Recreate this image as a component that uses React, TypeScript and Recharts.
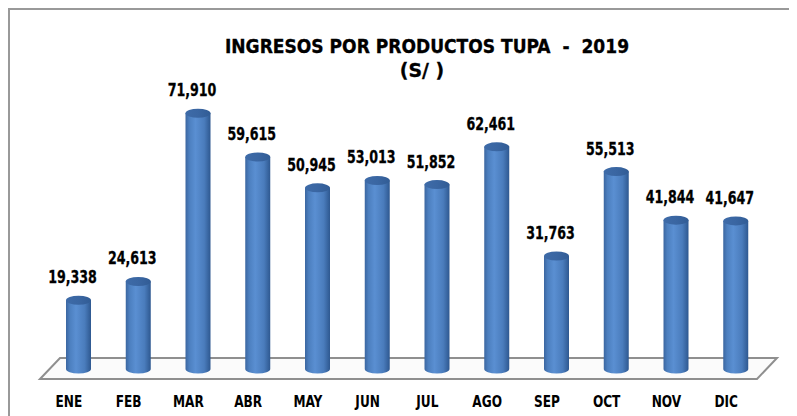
import React from 'react';
import * as R from 'recharts';
import { BarChart, Bar, XAxis, YAxis, LabelList } from 'recharts';

const MONTHS = ['ENE', 'FEB', 'MAR', 'ABR', 'MAY', 'JUN', 'JUL', 'AGO', 'SEP', 'OCT', 'NOV', 'DIC'];
const INGRESOS = [19338, 24613, 71910, 59615, 50945, 53013, 51852, 62461, 31763, 55513, 41844, 41647];

const data = MONTHS.map((m, i) => ({ month: m, value: INGRESOS[i] }));

const W = 787;
const H = 406;
const MARGIN = { top: 74.5, right: 31, left: 39, bottom: 0 };
const FONT = '"DejaVu Sans Condensed", "DejaVu Sans", sans-serif';

// cylinder shape
function Cylinder(props: any) {
  const { x, y, width, height } = props;
  if (height == null || width == null) return null;
  const rx = width / 2;
  const ry = 4.5;
  const bottom = y + height;
  const body = `M${x},${y} L${x},${bottom} A${rx},${ry} 0 0 0 ${x + width},${bottom} L${x + width},${y} Z`;
  return (
    <g>
      <path d={body} fill="url(#cylBody)" />
      <ellipse cx={x + rx} cy={y} rx={rx} ry={ry} fill="url(#cylTop)" />
    </g>
  );
}

function Floor() {
  const area = (R as any).usePlotArea ? (R as any).usePlotArea() : null;
  const left = area ? area.x : MARGIN.left;
  const right = area ? area.x + area.width : W - MARGIN.right;
  const base = area ? area.y + area.height : H - 47;
  const pts = [
    [left - 9, base + 10],
    [left + 11, base - 11],
    [right + 11, base - 11],
    [right - 9, base + 10],
  ]
    .map((p) => p.join(','))
    .join(' ');
  return <polygon points={pts} fill="#fbfbfb" stroke="#8f8f8f" strokeWidth={2} strokeLinejoin="miter" />;
}

function ValueLabel(props: any) {
  const { x, y, width, value } = props;
  const cx = x + width / 2 - 6;
  return (
    <text
      transform={`translate(${cx},${y - 17}) scale(0.78,1)`}
      textAnchor="middle"
      fontFamily={FONT}
      fontWeight="bold"
      fontSize={18}
      fill="#000"
      stroke="#000"
      strokeWidth={0.3}
    >
      {Number(value).toLocaleString('en-US')}
    </text>
  );
}

function MonthTick(props: any) {
  const { x, y, payload } = props;
  return (
    <text
      transform={`translate(${x - 10},${y + 37.5}) scale(0.9,1)`}
      textAnchor="middle"
      fontFamily={FONT}
      fontWeight="bold"
      fontSize={15}
      fill="#000"
    >
      {payload.value}
    </text>
  );
}

export default function App() {
  return (
    <div
      style={{
        width: W,
        height: H,
        borderTop: '2px solid #999',
        borderLeft: '2px solid #999',
        background: '#fff',
      }}
    >
      <BarChart width={W} height={H} data={data} margin={MARGIN} barSize={25}>
        <defs>
          <linearGradient id="cylBody" x1="0" y1="0" x2="1" y2="0">
            <stop offset="0%" stopColor="#3b66a0" />
            <stop offset="15%" stopColor="#4c7fbf" />
            <stop offset="40%" stopColor="#5a8fd2" />
            <stop offset="75%" stopColor="#4a7cbc" />
            <stop offset="100%" stopColor="#2e5890" />
          </linearGradient>
          <linearGradient id="cylTop" x1="0" y1="0" x2="1" y2="0">
            <stop offset="0%" stopColor="#3e6ba8" />
            <stop offset="50%" stopColor="#3a66a2" />
            <stop offset="100%" stopColor="#315c95" />
          </linearGradient>
        </defs>
        <text
          transform={`translate(417,43) scale(1,1)`}
          textAnchor="middle"
          fontFamily={FONT}
          fontWeight="bold"
          fontSize={19}
          fill="#000"
          stroke="#000"
          strokeWidth={0.3}
          style={{ whiteSpace: 'pre' }}
        >
          {'INGRESOS POR PRODUCTOS TUPA  -  2019'}
        </text>
        <text
          transform={`translate(412,67) scale(1.05,1)`}
          textAnchor="middle"
          fontFamily={FONT}
          fontWeight="bold"
          fontSize={20}
          fill="#000"
          stroke="#000"
          strokeWidth={0.3}
          style={{ whiteSpace: 'pre' }}
        >
          {'(S/ )'}
        </text>
        <Floor />
        <XAxis
          dataKey="month"
          axisLine={false}
          tickLine={false}
          tickSize={0}
          tickMargin={0}
          height={47}
          interval={0}
          tick={<MonthTick />}
        />
        <YAxis hide domain={[0, 80000]} />
        <Bar dataKey="value" shape={<Cylinder />} isAnimationActive={false}>
          <LabelList dataKey="value" content={<ValueLabel />} />
        </Bar>
      </BarChart>
    </div>
  );
}
